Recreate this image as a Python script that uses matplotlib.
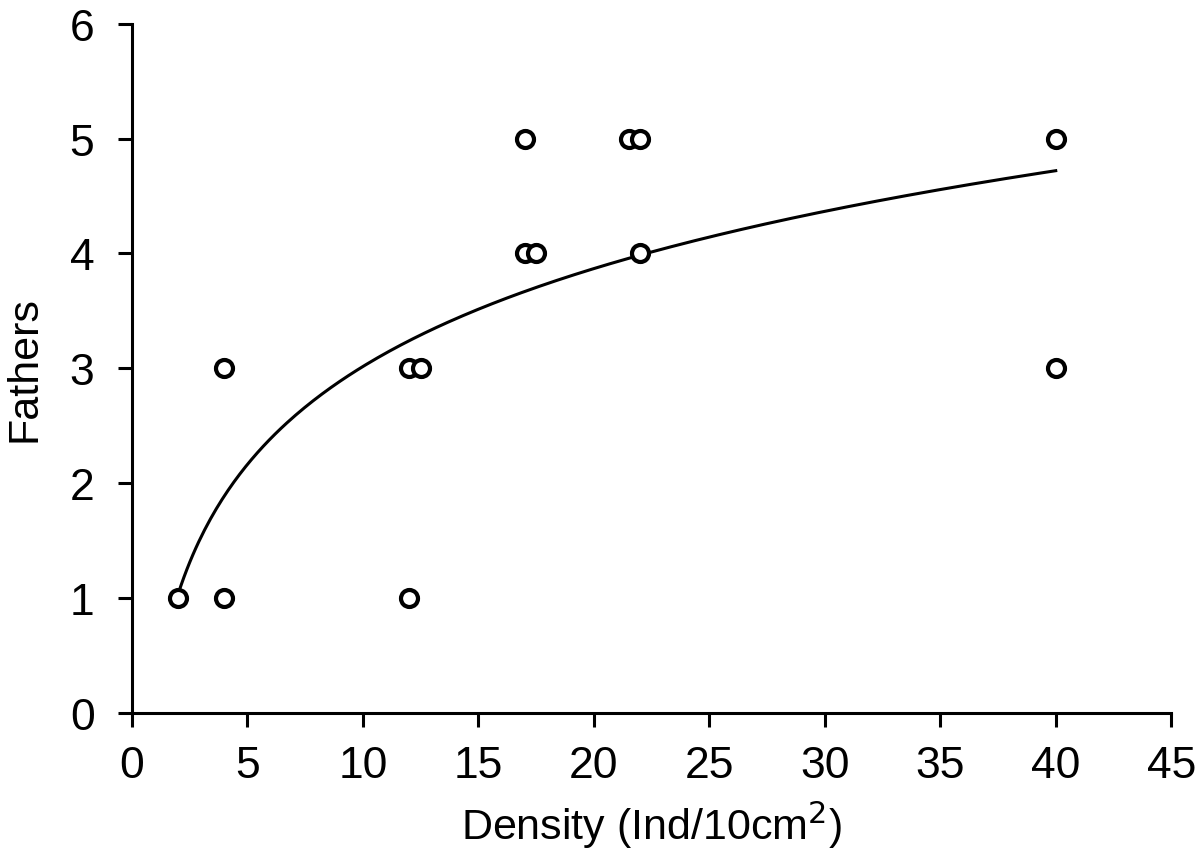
import numpy as np
import matplotlib
matplotlib.use("Agg")
import matplotlib.pyplot as plt

plt.rcParams['font.family'] = ['Liberation Sans', 'DejaVu Sans']

density = [2, 4, 4, 12, 12, 12.5, 17, 17, 17.5, 21.5, 22, 22, 40, 40]
fathers = [1, 1, 3, 1, 3, 3, 5, 4, 4, 5, 5, 4, 5, 3]

# logarithmic trendline
a, b = np.polyfit(np.log(density), fathers, 1)
xs = np.linspace(min(density), max(density), 300)
ys = a * np.log(xs) + b

fig = plt.figure(figsize=(12, 8.53), dpi=100)
ax = fig.add_axes([0.11, 0.163, 0.866, 0.808])

ax.plot(xs, ys, color='black', lw=2.2, zorder=2)
ax.scatter(density, fathers, s=150, facecolors='white', edgecolors='black',
           linewidths=3, zorder=3, clip_on=False)

ax.set_xlim(0, 45)
ax.set_ylim(0, 6)
ax.set_xticks(range(0, 46, 5))
ax.set_yticks(range(0, 7))
for s in ['top', 'right']:
    ax.spines[s].set_visible(False)
for s in ['left', 'bottom']:
    ax.spines[s].set_linewidth(2.2)
ax.tick_params(direction='out', length=10, width=2.2, labelsize=32)
ax.tick_params(axis='y', pad=17)
ax.tick_params(axis='x', pad=13)

ax.set_xlabel('Density (Ind/10cm$^2$)', fontsize=31, labelpad=9)
ax.set_ylabel('Fathers', fontsize=31, labelpad=18)

fig.savefig('out.png', dpi=100)
